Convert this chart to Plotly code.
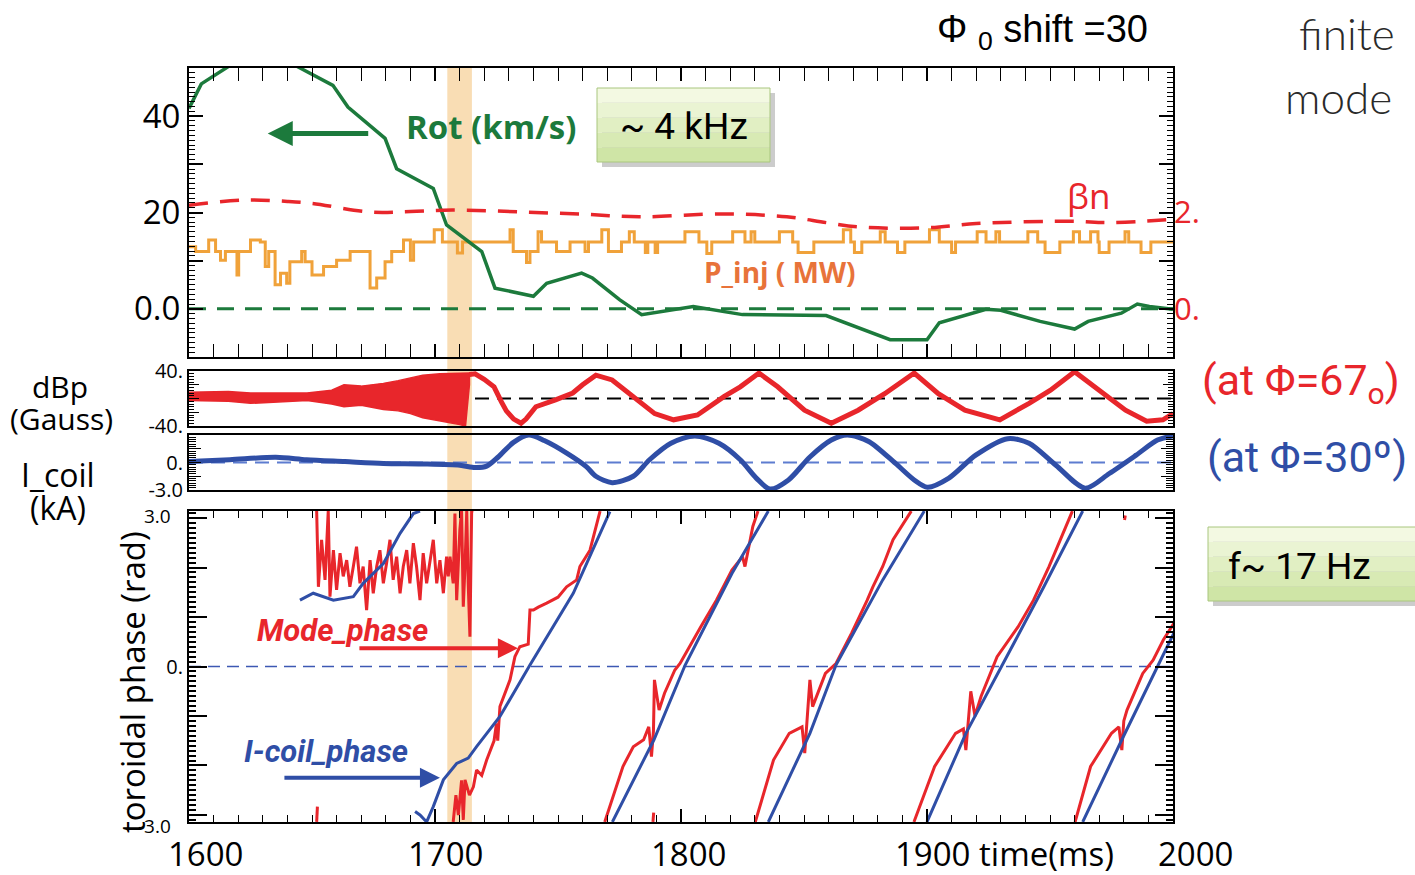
import math
import plotly.graph_objects as go

# ---------------- data ----------------
# Panel 1: toroidal rotation (km/s)
rot_t = [1600, 1605, 1616, 1630, 1644, 1658.5, 1664.6, 1679.7, 1684.4, 1699.3, 1704.7, 1719, 1724.4,
         1740, 1745.4, 1759.6, 1764, 1775, 1784, 1805, 1825, 1859, 1885, 1900, 1905, 1924, 1930,
         1946, 1960, 1965.5, 1979, 1985.5, 1990.4, 2000]
rot_v = [41.6, 46.7, 50.3, 54, 50.3, 46.4, 41.9, 35.4, 29.1, 25.0, 17.4, 11.9, 4.3,
         2.6, 5.3, 7.4, 6.4, 1.9, -1.2, 0.5, -1.2, -1.4, -6.4, -6.4, -2.9, -0.1, -0.3,
         -2.6, -4.2, -2.6, -0.9, 1.0, 0.5, -0.1]

# Panel 1: normalized beta (right axis)
bn_t = [1600, 1623, 1640, 1650, 1673.6, 1690, 1707, 1736, 1761.7, 1783, 1817, 1843, 1859, 1872,
        1899, 1920, 1959, 1974, 2000]
bn_v = [2.15, 2.26, 2.23, 2.19, 2.01, 2.02, 2.05, 2.01, 1.96, 1.91, 1.97, 1.91, 1.79, 1.70,
        1.68, 1.77, 1.82, 1.79, 1.86]

# Panel 1: injected power (MW), step trace
pinj_t = [1600, 1602.7, 1608, 1610.8, 1612.8, 1614.8, 1619.5, 1620.2, 1625, 1629, 1631, 1632.4,
          1635, 1637.2, 1639.7, 1641, 1645.8, 1647.2, 1650, 1654.7, 1660, 1665.5, 1673.6, 1676.3,
          1679.7, 1682.4, 1687.2, 1690, 1691.3, 1699.7, 1703, 1709.1, 1711.2, 1730.5, 1731.8,
          1737.2, 1738.6, 1741.9, 1743.3, 1749.4, 1754.9, 1761, 1762.4, 1767.8, 1770.5, 1775.8,
          1779, 1781, 1785.5, 1786.5, 1789.5, 1790.5, 1801.6, 1807.3, 1810.5, 1812.5, 1821, 1826,
          1828.5, 1830, 1840, 1845.4, 1847.6, 1854, 1866, 1869, 1870.5, 1873.5, 1881, 1883, 1888,
          1891, 1901, 1905, 1910, 1911.6, 1920.4, 1924, 1928, 1929.5, 1941, 1945, 1948, 1954,
          1959.5, 1962, 1966.5, 1969.5, 1970, 1974, 1980.5, 1982, 1987, 1991, 2000]
pinj_v = [12.9, 11.9, 14.3, 11.9, 10.1, 11.9, 7.0, 11.9, 14.3, 13.9, 8.8, 11.9,
          5.0, 7.4, 5.3, 9.8, 11.9, 9.8, 7.0, 8.8, 10.1, 11.9, 4.3, 6.4,
          9.8, 11.9, 14.3, 10.1, 13.9, 16.4, 13.9, 11.6, 13.9, 16.4, 11.9,
          9.6, 11.9, 16.0, 13.9, 11.9, 13.9, 11.9, 13.9, 16.4, 11.9, 13.9,
          16.0, 13.9, 11.7, 13.9, 11.7, 13.9, 16.0, 13.9, 11.5, 13.9, 16.0, 13.9,
          16.0, 13.9, 16.0, 13.9, 11.7, 13.9, 16.4, 13.9, 11.7, 13.9, 16.0, 13.9, 11.7,
          13.9, 16.4, 13.9, 11.7, 13.9, 16.0, 13.9, 16.0, 13.9, 16.0, 13.9, 11.7, 13.9,
          16.0, 13.9, 16.0, 13.9, 11.7, 13.9, 16.0, 13.9, 11.7, 13.9, 13.9]

# Panel 2: dBp (Gauss) - envelope of the fast (~4 kHz) oscillation, then slow trace
env_t = [1600, 1616, 1625, 1632, 1648, 1658, 1663, 1670, 1679, 1685, 1690, 1695, 1702, 1710, 1712.4, 1714]
env_hi = [9, 10, 8, 8, 8, 12, 20, 18, 22, 26, 30, 34, 36, 36, 36, 37]
env_lo = [-3, -4, -7, -6, -3, -8, -12, -10, -16, -18, -22, -28, -33, -38, -40, 20]
dbp_t = [1714, 1716.3, 1720, 1724, 1727, 1729, 1732, 1735, 1737, 1741, 1749, 1756, 1760, 1765.4,
         1772, 1780.6, 1789.3, 1797, 1806.7, 1817.6, 1824.1, 1831.7, 1839.3, 1850.2, 1861.1, 1872,
         1882.8, 1894.8, 1904.6, 1915.4, 1929.6, 1941.5, 1950.2, 1960, 1969.8, 1980.7, 1989.3,
         1995.9, 2000]
dbp_v = [35, 36, 28, 17, -5, -18, -30, -36, -30, -12, -2, 8, 20, 34,
         27, 3, -22, -31, -24, 3, 17, 37, 17, -17, -36, -17,
         7, 37, 7, -17, -31, -7, 12, 39, 12, -17, -33,
         -31, -22]

# Panel 3: I_coil (kA)
ic_t = [1600, 1616.6, 1635.3, 1647.8, 1663.4, 1679, 1694.5, 1710.1, 1716.3, 1721, 1725.7, 1731.9,
        1738.1, 1744.4, 1753.7, 1761.5, 1765.4, 1772, 1780.6, 1787.2, 1795.9, 1805.6, 1815.4,
        1824.1, 1830.6, 1836.1, 1843.7, 1852.4, 1861.1, 1867.6, 1876.3, 1887.2, 1894.8, 1900.2,
        1908.9, 1919.8, 1932.8, 1941.5, 1952.4, 1964.3, 1974.1, 1985, 1993.7, 2000]
ic_v = [0.1, 0.3, 0.57, 0.3, 0.1, -0.1, -0.16, -0.3, -0.55, -0.4, 0.6, 2.2,
        3.0, 2.4, 1.0, -0.45, -1.5, -2.2, -1.5, 0.3, 2.1, 2.9, 2.1,
        0.3, -1.7, -2.9, -1.9, 0.6, 2.45, 3.0, 2.3, -0.1, -1.9, -2.7,
        -1.7, 0.8, 2.6, 2.1, -0.3, -2.8, -1.2, 0.8, 2.45, 2.9]

# Panel 4: toroidal phase (rad); None separates wrapped segments
icph_t = [1645.1, 1650.5, 1658.7, 1666.8, 1670.8, 1679, 1685.8, 1691.2, 1693.9, None,
          1691.9, 1693.9, 1696.6, 1699.3, 1703.4, 1708.8, 1713.5, 1716.9, 1726.4, 1738.6, 1756.2, 1771.1, None,
          1772.1, 1789, 1801.7, 1820.7, 1835.5, None,
          1835.5, 1852.4, 1863, 1882, 1898.9, None,
          1900, 1915.8, 1930.6, 1947.5, 1963.3, None,
          1963.3, 1979.2, 1994, 2000.3]
icph_v = [1.34, 1.48, 1.34, 1.41, 1.68, 2.08, 2.69, 3.09, 3.14, None,
          -2.93, -3.0, -3.14, -2.83, -2.29, -1.96, -1.85, -1.62, -1.01, 0.03, 1.48, 3.13, None,
          -3.14, -1.48, 0.03, 1.88, 3.14, None,
          -3.14, -1.35, 0.03, 1.75, 3.14, None,
          -3.14, -1.35, 0.03, 1.61, 3.14, None,
          -3.14, -1.48, 0.03, 0.67]

mdph_t = [1651.9, 1652.6, 1653.9, 1655.3, 1656.6, 1657.3, 1658.7, 1660.0, 1661.4, 1662.7, 1664.1,
          1665.4, 1666.8, 1668.1, 1669.5, 1670.8, 1672.2, 1673.6, 1674.9, 1676.3, 1677.6, 1679.0,
          1680.3, 1681.7, 1683.0, 1684.4, 1685.8, 1687.1, 1688.5, 1689.8, 1691.2, 1692.5, 1693.9,
          1695.2, 1696.6, 1697.9, 1699.3, 1700.7, 1702.0, 1703.4, 1704.7, 1705.4, 1706.1, 1707.4,
          1708.1, 1708.8, 1710.1, 1710.8, 1711.5, 1712.2, 1712.9, 1713.5, 1714.2, 1714.9, 1715.6, None,
          1707.4, 1708.5, 1709.5, 1710.8, 1711.5, 1712.2, 1714, 1715.6, 1716.9, 1719, 1721, 1724,
          1725, 1725.5, 1726.4, 1730.5, 1732.5, 1734.5, 1737.9, 1738.6, 1740, 1742, 1745.4, 1750,
          1753.5, 1757.6, 1758.9, 1763, 1767.1, None,
          1769, 1776.4, 1780.6, 1784.8, 1786.9, 1788, 1788.8, 1789.2, 1791.1, 1793.3, 1797.5,
          1799.6, 1808, 1814.4, 1820.7, 1825, 1826, 1829.2, 1831.3, None,
          1830.2, 1837.6, 1844, 1849.2, 1850.3, 1851, 1852.4, 1853.5, 1856, 1858.7, 1863, 1869.3,
          1875.7, 1878, 1882, 1886.2, 1893.6, None,
          1894.7, 1903.1, 1911.6, 1914.8, 1915.8, 1916.5, 1917.8, 1919.5, 1922, 1928.5, 1937,
          1943.3, 1949.6, 1959.1, None,
          1960.2, 1966.5, 1975, 1978, 1979.2, 1980, 1981.3, 1987.7, 1991.9, 1996.1, 2000.3, None,
          1651.9, 1652.2, None, 1788.6, 1788.9, None, 1980.3, 1980.6]
mdph_v = [3.14, 1.61, 2.56, 1.75, 3.14, 1.41, 2.35, 1.55, 2.29, 1.82, 2.15,
          1.61, 2.02, 2.42, 1.68, 2.02, 1.14, 2.15, 1.48, 2.02, 2.35, 1.68,
          2.08, 2.56, 1.75, 2.22, 1.48, 2.02, 2.35, 1.68, 2.49, 2.02, 1.34,
          2.29, 1.68, 2.08, 2.56, 1.68, 2.15, 1.48, 2.22, 1.82, 2.22, 1.68,
          3.09, 1.34, 2.76, 3.14, 1.21, 2.02, 3.14, 1.68, 0.60, 3.14, 3.14, None,
          -3.14, -2.6, -3.0, -2.3, -3.1, -2.29, -2.6, -2.43, -2.09, -2.2, -1.89, -1.5,
          -1.15, -1.5, -0.81, -0.27, 0.20, 0.40, 0.45, 1.14, 1.14, 1.2, 1.28, 1.4,
          1.61, 1.75, 2.02, 2.35, 3.14, None,
          -3.14, -2.02, -1.62, -1.48, -1.22, -1.82, -1.3, -0.27, -0.88, -0.54, -0.07,
          0.06, 0.80, 1.34, 1.95, 2.22, 2.02, 2.83, 3.14, None,
          -3.14, -1.89, -1.35, -1.22, -1.75, -1.2, -0.27, -0.81, -0.5, -0.14, 0.06, 0.67,
          1.34, 1.61, 2.02, 2.56, 3.14, None,
          -3.14, -2.02, -1.35, -1.26, -1.69, -1.2, -0.5, -1.0, -0.6, 0.20, 0.80,
          1.34, 2.02, 3.14, None,
          -3.14, -2.02, -1.35, -1.22, -1.69, -1.1, -0.88, -0.14, 0.13, 0.54, 0.87, None,
          -3.14, -2.83, None, -3.14, -2.95, None, 2.96, 3.05]

band_t = [1705, 1715]
x_labels = ["1600", "1700", "1800", "1900 time(ms)", "2000"]

# ---------------- styling ----------------
RED = '#e8262b'
BLUE = '#2f4ea6'
GREEN = '#1c7a3c'
ORANGE = '#f0a23a'
W, H = 1415, 875
FONT = 'Open Sans, Noto Sans, sans-serif'
NARROW = 'Liberation Sans Narrow, Roboto, sans-serif'


def px(p):
    return p / W


def py(p):
    return (H - p) / H


X0, X1 = px(189), px(1173)
dom1 = [py(357), py(68)]
dom2 = [py(426), py(371)]
dom3 = [py(490), py(435)]
dom4 = [py(822), py(511)]

fig = go.Figure()

# Panel 1
fig.add_trace(go.Scatter(x=[1600, 2000], y=[0, 0], mode='lines', xaxis='x', yaxis='y',
                         line=dict(color=GREEN, width=3, dash='17px,11px')))
fig.add_trace(go.Scatter(x=bn_t, y=bn_v, mode='lines', xaxis='x', yaxis='y5',
                         line=dict(color=RED, width=3.5, dash='19px,12px', shape='spline')))
fig.add_trace(go.Scatter(x=pinj_t, y=pinj_v, mode='lines', xaxis='x', yaxis='y',
                         line=dict(color=ORANGE, width=3, shape='hv')))
fig.add_trace(go.Scatter(x=rot_t, y=rot_v, mode='lines', xaxis='x', yaxis='y',
                         line=dict(color=GREEN, width=3.5)))

# Panel 2
fig.add_trace(go.Scatter(x=[1600, 2000], y=[0, 0], mode='lines', xaxis='x2', yaxis='y2',
                         line=dict(color='black', width=2, dash='14px,8px')))
fig.add_trace(go.Scatter(x=env_t + env_t[::-1], y=env_hi + env_lo[::-1], mode='lines',
                         xaxis='x2', yaxis='y2', fill='toself', fillcolor=RED,
                         line=dict(color=RED, width=1.5)))
fig.add_trace(go.Scatter(x=dbp_t, y=dbp_v, mode='lines', xaxis='x2', yaxis='y2',
                         line=dict(color=RED, width=5)))

# Panel 3
fig.add_trace(go.Scatter(x=[1600, 2000], y=[0, 0], mode='lines', xaxis='x3', yaxis='y3',
                         line=dict(color='#5d7cd0', width=2, dash='14px,8px')))
fig.add_trace(go.Scatter(x=ic_t, y=ic_v, mode='lines', xaxis='x3', yaxis='y3',
                         line=dict(color=BLUE, width=5, shape='spline', smoothing=0.8)))

# Panel 4
fig.add_trace(go.Scatter(x=[1600, 2000], y=[0, 0], mode='lines', xaxis='x4', yaxis='y4',
                         line=dict(color='#3d58b3', width=1.5, dash='12px,7px')))
fig.add_trace(go.Scatter(x=mdph_t, y=mdph_v, mode='lines', xaxis='x4', yaxis='y4',
                         connectgaps=False, line=dict(color=RED, width=3)))
fig.add_trace(go.Scatter(x=icph_t, y=icph_v, mode='lines', xaxis='x4', yaxis='y4',
                         connectgaps=False, line=dict(color=BLUE, width=3)))

base_ax = dict(showline=True, linecolor='black', linewidth=2, mirror='allticks', ticks='inside',
               tickcolor='black', showgrid=False, zeroline=False, automargin=False)
xmain = dict(base_ax, range=[1600, 2000], tick0=1600, dtick=100, ticklen=13, tickwidth=1.5,
             showticklabels=False,
             minor=dict(dtick=10, ticklen=7, tickwidth=1, ticks='inside', tickcolor='black'))
xplain = dict(showline=True, linecolor='black', linewidth=2, mirror=True, ticks='',
              showgrid=False, zeroline=False, range=[1600, 2000], showticklabels=False,
              automargin=False)

fig.update_layout(
    width=W, height=H, margin=dict(l=0, r=0, t=0, b=0, pad=0, autoexpand=False),
    paper_bgcolor='white', plot_bgcolor='rgba(0,0,0,0)', showlegend=False,
    font=dict(family=FONT, color='black'),
    xaxis=dict(xmain, domain=[X0, X1], anchor='y'),
    xaxis2=dict(xplain, domain=[X0, X1], anchor='y2'),
    xaxis3=dict(xplain, domain=[X0, X1], anchor='y3'),
    xaxis4=dict(xmain, domain=[X0, X1], anchor='y4'),
    yaxis=dict(base_ax, domain=dom1, anchor='x', range=[-10, 50], tickmode='array',
               tickvals=[-10, 0, 10, 20, 30, 40, 50], ticktext=['', '0.0', '', '20', '', '40', ''],
               ticklen=14, tickwidth=1.5, tickfont=dict(size=33, family=FONT),
               minor=dict(dtick=1, ticklen=6, tickwidth=1, ticks='inside', tickcolor='black')),
    yaxis5=dict(overlaying='y', side='right', anchor='x', range=[-1, 5], tickmode='array',
                tickvals=[0, 2], ticktext=['0.', '2.'], ticks='', showline=False, showgrid=False,
                zeroline=False, automargin=False, tickfont=dict(size=31, color=RED, family=FONT)),
    yaxis2=dict(base_ax, domain=dom2, anchor='x2', range=[-40, 40], tickmode='array',
                tickvals=[-40, -20, 0, 20, 40], ticktext=['-40.', '', '', '', '40.'],
                ticklen=10, tickfont=dict(size=20, family=FONT),
                minor=dict(dtick=4, ticklen=5, ticks='inside', tickcolor='black')),
    yaxis3=dict(base_ax, domain=dom3, anchor='x3', range=[-3, 3], tickmode='array',
                tickvals=[-3, -1.5, 0, 1.5, 3], ticktext=['-3.0', '', '0.', '', ''],
                ticklen=12, tickfont=dict(size=20, family=FONT),
                minor=dict(dtick=0.25, ticklen=7, ticks='inside', tickcolor='black')),
    yaxis4=dict(base_ax, domain=dom4, anchor='x4', range=[-math.pi, math.pi], tickmode='array',
                tickvals=[-3, -2, -1, 0, 1, 2, 3], ticktext=['', '', '', '0.', '', '', ''],
                ticklen=18, tickwidth=1.5, tickfont=dict(size=20, family=FONT),
                minor=dict(dtick=0.1, ticklen=7, ticks='inside', tickcolor='black')),
)

shapes = []
shapes.append(dict(type='rect', xref='x', yref='paper', x0=band_t[0], x1=band_t[1],
                   y0=dom4[0], y1=dom1[1], fillcolor='#f9ddb4', line=dict(width=0), layer='below'))


def gbox(x0, y0, x1, y1):
    out = [dict(type='rect', xref='paper', yref='paper', x0=px(x0 + 5), x1=px(x1 + 5),
                y0=py(y1 + 5), y1=py(y0 + 5), fillcolor='rgba(0,0,0,0.2)', line=dict(width=0))]
    cols = ['#f3f9e2', '#eaf4d3', '#e1efc3', '#d8eab4', '#cfe5a6']
    n = len(cols)
    for i, c in enumerate(cols):
        a = y0 + (y1 - y0) * i / n
        b = y0 + (y1 - y0) * (i + 1) / n
        out.append(dict(type='rect', xref='paper', yref='paper', x0=px(x0), x1=px(x1),
                        y0=py(b), y1=py(a), fillcolor=c, line=dict(width=0)))
    out.append(dict(type='rect', xref='paper', yref='paper', x0=px(x0), x1=px(x1),
                    y0=py(y1), y1=py(y0), fillcolor='rgba(0,0,0,0)',
                    line=dict(color='#a9c67f', width=1)))
    return out


shapes += gbox(597, 88, 770, 162)
shapes += gbox(1208, 527, 1440, 601)
fig.update_layout(shapes=shapes)

anns = []


def ann(text, x, y, size, color='black', xanchor='center', family=FONT, weight=None, **kw):
    f = dict(size=size, color=color, family=family)
    if weight is not None:
        f['weight'] = weight
    anns.append(dict(text=text, x=px(x), y=py(y), xref='paper', yref='paper', showarrow=False,
                     xanchor=xanchor, yanchor='middle', font=f, **kw))


# x tick labels
ann(x_labels[0], 205, 853, 33)
ann(x_labels[1], 445, 853, 33)
ann(x_labels[2], 688, 853, 33)
ann(x_labels[3], 893, 853, 33, xanchor='left')
ann(x_labels[4], 1195, 853, 33)

# panel-4 edge labels
ann('3.0', 173, 516, 19, xanchor='right')
ann('-3.0', 173, 826, 19, xanchor='right')

# left labels
ann('dBp', 60, 386, 30)
ann('(Gauss)', 61, 418, 30)
ann('I_coil', 58, 474, 32)
ann('(kA)', 58, 508, 32)
ann('toroidal phase (rad)', 133, 682, 33, textangle=-90)

# header and right side labels
ann('Φ <sub>0</sub> shift =30', 935, 32, 38, xanchor='left', family='Liberation Sans, Arial, sans-serif')
ann('finite', 1297, 33, 44, color='#2a2a2a', xanchor='left', family='Lato, sans-serif', weight=300)
ann('mode', 1283, 97, 44, color='#2a2a2a', xanchor='left', family='Lato, sans-serif', weight=300)
ann('(at Φ=67<sub>o</sub>)', 1200, 383, 43, color=RED, xanchor='left', family=NARROW)
ann('(at Φ=30º)', 1205, 457, 43, color=BLUE, xanchor='left', family=NARROW)

# panel 1 texts
ann('<b>Rot (km/s)</b>', 491, 127, 33, color=GREEN)
ann('<b>P_inj ( MW)</b>', 780, 272, 28, color='#e8733a')
ann('βn', 1088, 195, 35, color=RED)
ann('~ 4 kHz', 684, 127, 37, family=NARROW)
ann('f~ 17 Hz', 1226, 566, 37, xanchor='left', family=NARROW)

# panel 4 texts
ann('<b><i>Mode_phase</i></b>', 342, 630, 31, color=RED, family=NARROW)
ann('<b><i>I-coil_phase</i></b>', 326, 751, 31, color=BLUE, family=NARROW)

# arrows (tip in data coordinates)
anns.append(dict(x=1632, y=36.4, xref='x', yref='y', ax=102, ay=0, text='', showarrow=True,
                 arrowhead=2, arrowsize=1, arrowwidth=5, arrowcolor=GREEN, standoff=0))
anns.append(dict(x=1733.7, y=0.37, xref='x4', yref='y4', ax=-160, ay=0, text='', showarrow=True,
                 arrowhead=2, arrowsize=1, arrowwidth=4, arrowcolor=RED, standoff=0))
anns.append(dict(x=1702, y=-2.25, xref='x4', yref='y4', ax=-157, ay=0, text='', showarrow=True,
                 arrowhead=2, arrowsize=1, arrowwidth=4, arrowcolor=BLUE, standoff=0))

fig.update_layout(annotations=anns)
fig.write_html('out.html')
